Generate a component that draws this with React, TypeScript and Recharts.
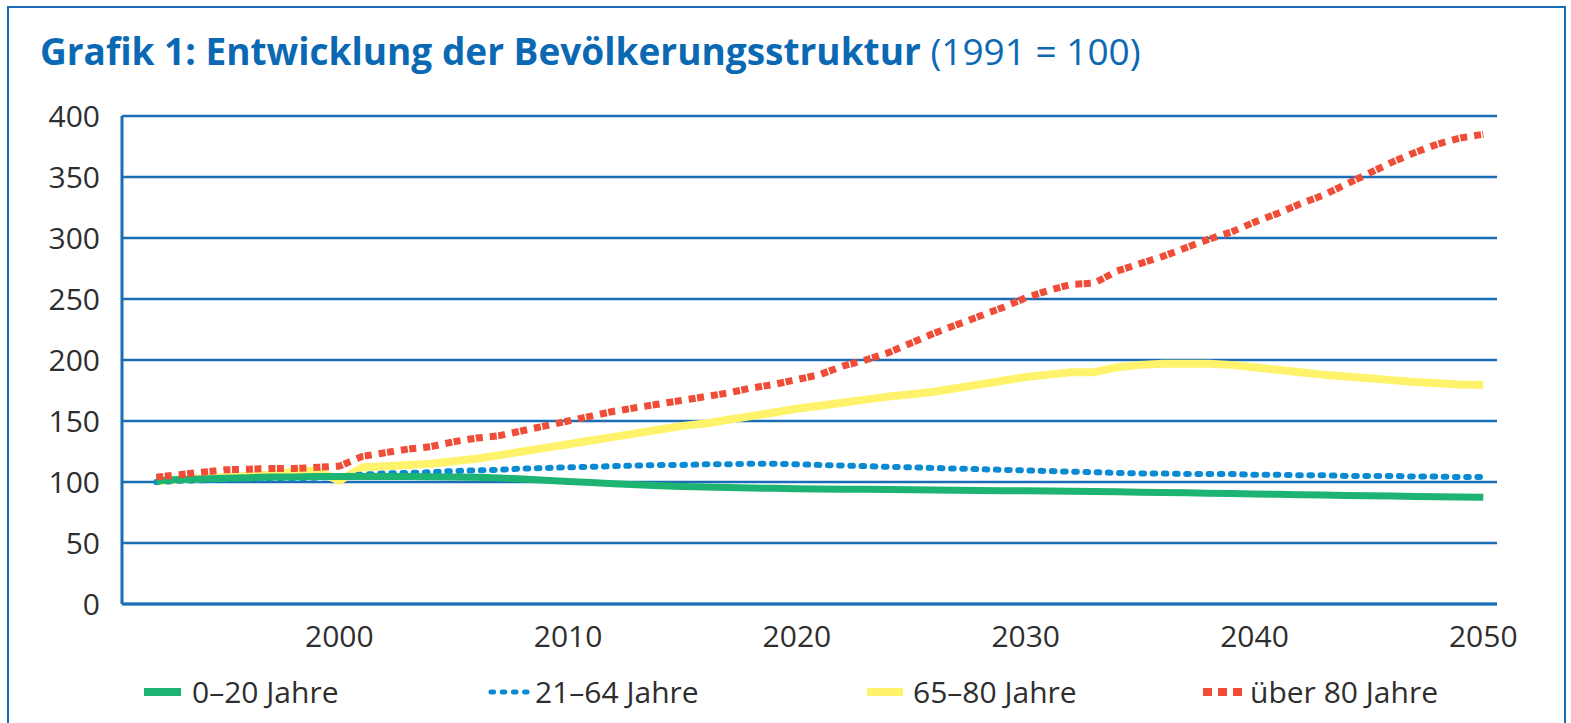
import { CartesianGrid, Line, LineChart, XAxis, YAxis } from "recharts";

const years = Array.from({ length: 59 }, (_, i) => 1992 + i);

const jung = [
  101, 102, 102.5, 103, 103.5, 104, 104, 104.5, 104.5, 104.5,
  104.5, 104.5, 104.3, 104, 103.8, 103.3, 102.5, 101.5, 100.5, 99.5,
  98.5, 97.7, 97, 96.4, 95.9, 95.5, 95.1, 94.8, 94.5, 94.3,
  94.1, 94, 93.8, 93.6, 93.4, 93.2, 93, 92.9, 92.8, 92.6,
  92.4, 92.2, 92, 91.7, 91.4, 91.1, 90.8, 90.5, 90.2, 89.9,
  89.6, 89.3, 89, 88.8, 88.5, 88.2, 88, 87.8, 87.5,
];

const erwerb = [
  100, 101, 101.5, 102, 102.5, 103, 103, 103.5, 104.5, 106,
  107, 107.5, 108, 109, 109.5, 110, 111, 111.5, 112, 112.5,
  113, 113.5, 114, 114, 114.5, 114.5, 115, 115, 114.5, 114,
  113.5, 113, 112.5, 112, 111.5, 111, 110.5, 110, 109.5, 109,
  108.5, 108, 107.5, 107, 107, 106.5, 106.5, 106.5, 106, 106,
  105.5, 105.5, 105, 105, 105, 104.5, 104.5, 104, 104,
];

const senioren = [
  100.5, 102, 103, 104, 105, 106, 108.5, 109.5, 101, 112,
  113, 114, 115, 117, 119, 122, 125, 128, 131, 134,
  137, 140, 143, 146, 148, 151, 154, 157, 160, 162.5,
  165, 167.5, 170, 172, 174, 177, 180, 183, 186, 188,
  190, 190, 194, 196, 197, 197, 197, 196, 194, 192,
  190, 188, 186.5, 185, 183.5, 182, 181, 180, 179.5,
];

const hochbetagt = [
  104, 106, 108, 110, 110.5, 111, 111, 112, 113, 121,
  124, 127, 129, 133, 136, 138, 142, 146, 150, 154,
  158, 161, 164, 167, 170, 173, 177, 180, 184, 188,
  195, 200, 206, 214, 222, 229, 236, 243, 251, 257,
  262, 263, 273, 279, 285, 292, 299, 305, 313, 320,
  328, 335, 344, 353, 362, 370, 377, 382, 385,
];

const yTicks = [0, 50, 100, 150, 200, 250, 300, 350, 400];
const xTicks = [2000, 2010, 2020, 2030, 2040, 2050];

const serien = [
  { key: "jung", name: "0–20 Jahre", color: "#1db473", width: 7, dash: undefined, cap: "butt", legendX: 144, legendW: 37, textX: 192 },
  { key: "erwerb", name: "21–64 Jahre", color: "#0a8ad3", width: 6, dash: "2.6 8.6", cap: "round", legendX: 488, legendW: 42, textX: 535 },
  { key: "senioren", name: "65–80 Jahre", color: "#fff36c", width: 8, dash: undefined, cap: "butt", legendX: 867, legendW: 36, textX: 913 },
  { key: "hochbetagt", name: "über 80 Jahre", color: "#ef4d37", width: 7, dash: "7 1.5 7 7", cap: "butt", legendX: 1203, legendW: 42, textX: 1250 },
];

const daten = years.map((jahr, i) => ({
  jahr,
  jung: jung[i],
  erwerb: erwerb[i],
  senioren: senioren[i],
  hochbetagt: hochbetagt[i],
}));

const blau = "#1a6db4";
const schrift = '"Open Sans", sans-serif';
const tickStil = { fill: "#2e2e2e", fontSize: 30, fontFamily: schrift };

// Reihenfolge im Bild: gelb unten, dann blau, grün, rot oben
const zeichenFolge = ["senioren", "erwerb", "jung", "hochbetagt"];

export default function App() {
  return (
    <div
      style={{
        position: "absolute",
        left: 0,
        top: 0,
        width: 1571,
        height: 723,
        overflow: "hidden",
        background: "#fff",
        fontFamily: schrift,
      }}
    >
      <div
        style={{
          position: "absolute",
          left: 7,
          top: 6,
          width: 1559,
          height: 760,
          border: `2.5px solid ${blau}`,
          boxSizing: "border-box",
        }}
      />
      <div
        style={{
          position: "absolute",
          left: 40,
          top: 32,
          fontSize: 37,
          lineHeight: "37px",
          color: "#0b69b4",
          whiteSpace: "nowrap",
        }}
      >
        <span style={{ fontWeight: 700 }}>Grafik 1: Entwicklung der Bevölkerungsstruktur</span>
        <span style={{ fontWeight: 400 }}> (1991 = 100)</span>
      </div>

      <div style={{ position: "absolute", left: 0, top: 0 }}>
        <LineChart
          width={1571}
          height={723}
          data={daten}
          margin={{ top: 116, right: 74, bottom: 79, left: 0 }}
        >
          <CartesianGrid vertical={false} stroke={blau} strokeWidth={2.5} strokeOpacity={1} />
          <XAxis
            dataKey="jahr"
            type="number"
            domain={[1990.5, 2050.6]}
            ticks={xTicks}
            allowDataOverflow
            height={40}
            tick={tickStil}
            tickLine={false}
            tickSize={0}
            tickMargin={22}
            axisLine={{ stroke: blau, strokeWidth: 3 }}
          />
          <YAxis
            domain={[0, 400]}
            ticks={yTicks}
            width={122}
            tick={tickStil}
            tickLine={false}
            tickSize={0}
            tickMargin={22}
            axisLine={{ stroke: blau, strokeWidth: 3 }}
          />
          {zeichenFolge.map((k) => {
            const s = serien.find((x) => x.key === k)!;
            return (
              <Line
                key={s.key}
                type="linear"
                dataKey={s.key}
                name={s.name}
                stroke={s.color}
                strokeWidth={s.width}
                strokeDasharray={s.dash}
                strokeLinecap={s.cap as "butt" | "round"}
                strokeLinejoin="round"
                dot={false}
                activeDot={false}
                isAnimationActive={false}
              />
            );
          })}
        </LineChart>
      </div>

      {serien.map((s) => (
        <div key={s.key}>
          <svg
            width={s.legendW + 4}
            height={12}
            style={{ position: "absolute", left: s.legendX - 2, top: 686 }}
          >
            <line
              x1={s.cap === "round" ? 2 + s.width / 2 : 2}
              x2={s.cap === "round" ? s.legendW + 2 - s.width / 2 : s.legendW + 2}
              y1={6}
              y2={6}
              stroke={s.color}
              strokeWidth={s.key === "erwerb" ? 5 : 8}
              strokeDasharray={s.key === "hochbetagt" ? "9 6" : s.dash}
              strokeLinecap={s.cap as "butt" | "round"}
            />
          </svg>
          <div
            style={{
              position: "absolute",
              left: s.textX,
              top: 674,
              fontSize: 30,
              lineHeight: "36px",
              color: "#2e2e2e",
              whiteSpace: "nowrap",
            }}
          >
            {s.name}
          </div>
        </div>
      ))}
    </div>
  );
}
